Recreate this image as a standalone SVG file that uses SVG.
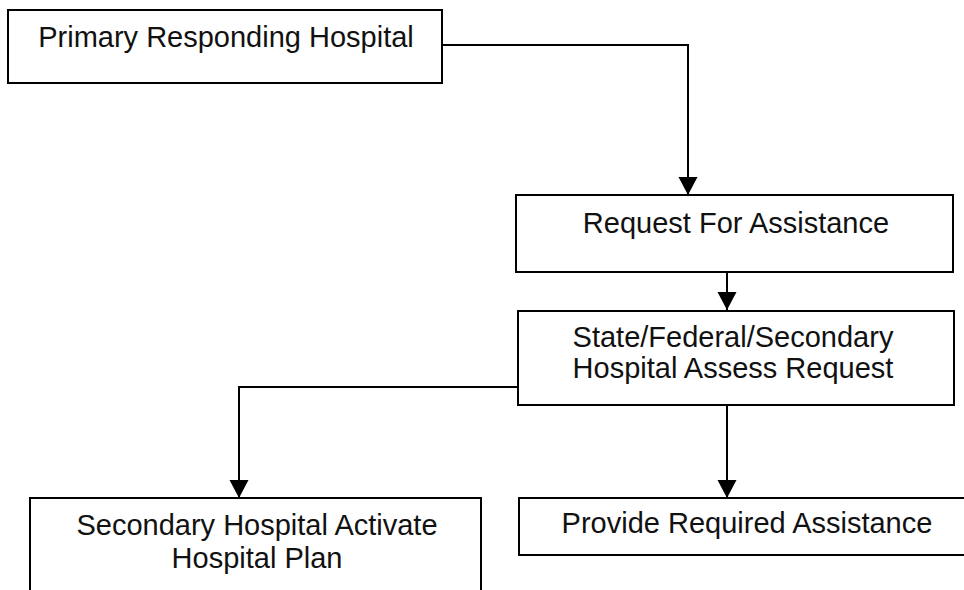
<svg xmlns="http://www.w3.org/2000/svg" width="964" height="590" viewBox="0 0 964 590">
<style>
  .box { fill: #ffffff; stroke: #000000; stroke-width: 2; }
  .lbl { font-family: "Liberation Sans", Arial, sans-serif; font-size: 29px; fill: #111111; text-anchor: middle; }
  .conn { fill: none; stroke: #000000; stroke-width: 2; }
</style>
<defs>
  <marker id="arr" markerUnits="userSpaceOnUse" markerWidth="20" markerHeight="20" refX="18" refY="0" orient="auto" overflow="visible">
    <path d="M0,-9.5 L18,0 L0,9.5 Z" fill="#000000"/>
  </marker>
</defs>
<rect width="964" height="590" fill="#ffffff"/>
<g id="connectors">
  <path class="conn" d="M442,45 H688 V195" marker-end="url(#arr)"/>
  <path class="conn" d="M727,272 V310" marker-end="url(#arr)"/>
  <path class="conn" d="M518,387 H239 V498" marker-end="url(#arr)"/>
  <path class="conn" d="M727,405 V498" marker-end="url(#arr)"/>
</g>
<g id="primary">
  <rect class="box" x="8" y="10" width="434" height="73"/>
  <text class="lbl" x="226" y="47">Primary Responding Hospital</text>
</g>
<g id="request">
  <rect class="box" x="516" y="195" width="437" height="77"/>
  <text class="lbl" x="736" y="233">Request For Assistance</text>
</g>
<g id="assess">
  <rect class="box" x="518" y="311" width="436" height="94"/>
  <text class="lbl" x="733" y="347">State/Federal/Secondary</text>
  <text class="lbl" x="733" y="378">Hospital Assess Request</text>
</g>
<g id="activate">
  <rect class="box" x="30" y="498" width="451" height="110"/>
  <text class="lbl" x="257" y="535">Secondary Hospital Activate</text>
  <text class="lbl" x="257" y="568">Hospital Plan</text>
</g>
<g id="provide">
  <rect class="box" x="519" y="498" width="460" height="57"/>
  <text class="lbl" x="747" y="533">Provide Required Assistance</text>
</g>
</svg>
